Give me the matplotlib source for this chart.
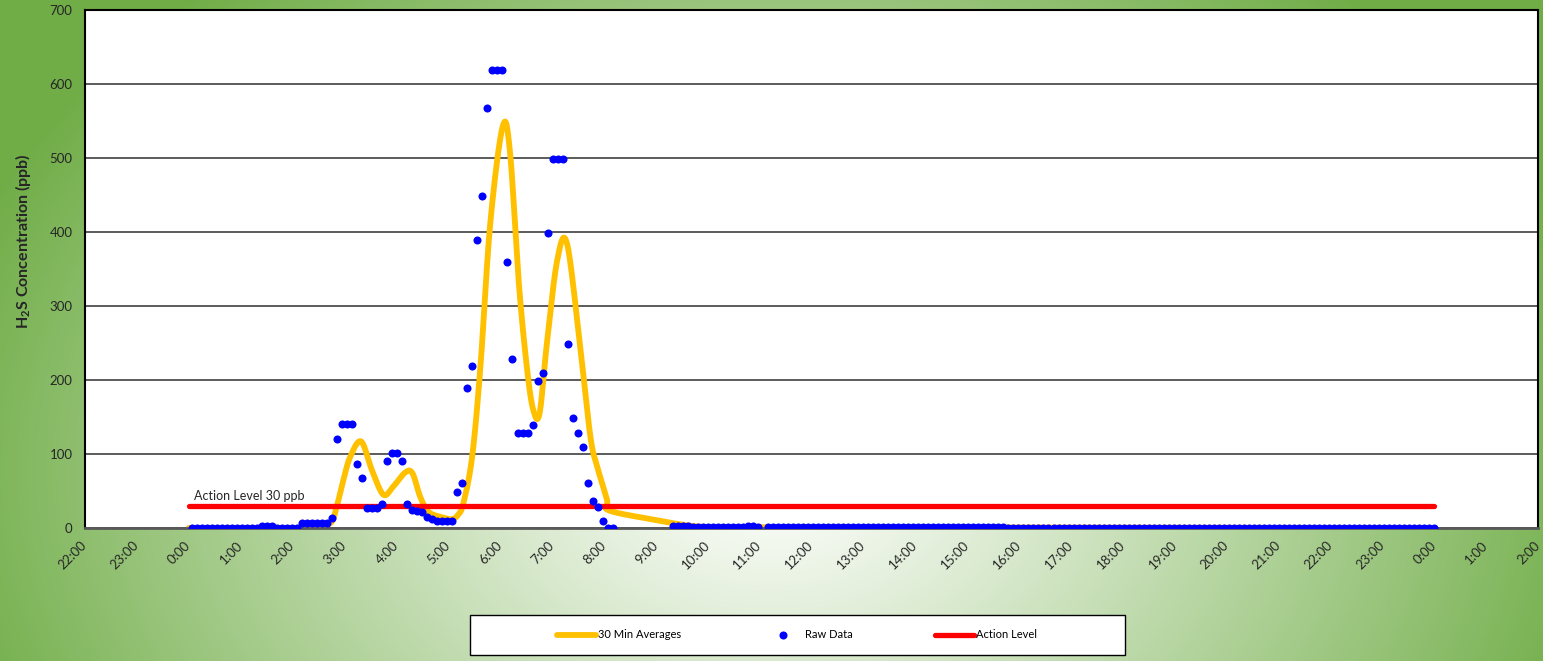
import numpy as np
import matplotlib
matplotlib.use("Agg")
import matplotlib.pyplot as plt
from matplotlib.patches import Rectangle
from matplotlib.lines import Line2D

plt.rcParams['font.family'] = ['Lato', 'DejaVu Sans']
plt.rcParams['mathtext.fontset'] = 'custom'
plt.rcParams['mathtext.rm'] = 'Lato'
plt.rcParams['mathtext.bf'] = 'Lato:bold'

# raw readings, one value per reading (NaN = no reading)
raw_values = (
    [0] * 14 + [3, 3, 3] + [0] * 5 + [7] * 6 +
    [14, 120, 140, 140, 140, 87, 68, 27, 27, 27, 32, 90, 102, 102, 90, 32,
     24, 23, 22, 15, 12, 10, 10, 10, 10, 48, 61, 189, 219, 389, 449, 568,
     619, 619, 619, 359, 229, 129, 129, 129, 139, 199, 209, 399, 499, 499,
     499, 249, 149, 129, 109, 61, 36, 28, 10, 0, 0] +
    [np.nan] * 11 +
    [3, 3, 3, 3, 2, 2, 2, 2, 2, 2, 1, 1, 1, 1, 2, 3, 3, 2] +
    [np.nan] +
    [1] * 16 + [2] * 3 + [1] * 4 + [2] * 5 + [1] * 16 + [2] * 4 + [0] * 86
)
raw_hours = np.linspace(0.06, 24.0, len(raw_values))

# 30 minute averages (hours after midnight, ppb)
avg_hours = [0.0, 2.07, 2.34, 2.72, 2.85, 2.98, 3.11, 3.32, 3.53, 3.75, 3.94,
             4.17, 4.31, 4.46, 4.62, 4.85, 5.07, 5.19, 5.29, 5.46, 5.62, 5.81,
             6.05, 6.19, 6.36, 6.52, 6.64, 6.76, 6.90, 7.10, 7.29,
             7.55, 7.74, 7.87, 8.06, 8.09, 8.90, 9.67, 10.25, 11.0, 24.0]
avg_values = [0, 0, 3, 6, 29, 65, 96, 117, 78, 45, 56,
              75, 74, 42, 22, 15, 12, 18, 33, 96, 218, 412,
              543, 508, 331, 214, 159, 155, 249, 362, 384,
              240, 123, 83, 38, 24, 12, 3, 1, 1, 0]

action_hours = [0, 24]
action_values = [30, 30]

tick_hours = list(range(-2, 27))
tick_labels = ["{}:00".format(h % 24) for h in tick_hours]


def smooth(xs, ys, n=24):
    # excel style smoothed line (bezier through the points)
    P = np.column_stack([xs, ys]).astype(float)
    out = []
    for i in range(len(P) - 1):
        p0 = P[i - 1] if i > 0 else P[i]
        p1, p2 = P[i], P[i + 1]
        p3 = P[i + 2] if i + 2 < len(P) else P[i + 1]
        c1 = p1 + (p2 - p0) / 6
        c2 = p2 - (p3 - p1) / 6
        t = np.linspace(0, 1, n)[:, None]
        seg = (1 - t) ** 3 * p1 + 3 * (1 - t) ** 2 * t * c1 + 3 * (1 - t) * t ** 2 * c2 + t ** 3 * p2
        out.append(seg if i == 0 else seg[1:])
    return np.vstack(out)


W, H = 1543, 661
fig = plt.figure(figsize=(W / 100, H / 100), dpi=100)

# radial gradient background
bg = fig.add_axes([0, 0, 1, 1], zorder=-10)
gx, gy = np.meshgrid(np.arange(W), np.arange(H))
r = np.sqrt(((gx - 771) / 860.0) ** 2 + ((gy - 470) / 640.0) ** 2)
r = np.clip(r, 0, 1) ** 1.1
c_in = np.array([1.0, 1.0, 1.0])
c_out = np.array([0x70, 0xAD, 0x47]) / 255.0
img = c_in[None, None, :] * (1 - r[..., None]) + c_out[None, None, :] * r[..., None]
bg.imshow(img, aspect='auto', extent=[0, W, H, 0])
bg.axis('off')

ax = fig.add_axes([85 / W, 1 - 528 / H, (1538 - 85) / W, (528 - 10) / H])
ax.set_facecolor('white')

curve = smooth(avg_hours, avg_values)
ax.plot(curve[:, 0], curve[:, 1], color='#FFC000', lw=4.2, solid_capstyle='round',
        solid_joinstyle='round', zorder=2)
ax.plot(action_hours, action_values, color='#FF0000', lw=3.8, solid_capstyle='round', zorder=3)
ax.plot(raw_hours, raw_values, 'o', color='#0000FF', ms=5.8, mec='none', zorder=4)

ax.text(0.11, 38.5, "Action Level 30 ppb", fontsize=9, color='#262626', va='baseline', zorder=5)

ax.set_xlim(-2, 26)
ax.set_ylim(0, 700)
ax.set_xticks(tick_hours)
ax.set_xticklabels(tick_labels, rotation=45, ha='right', va='center', rotation_mode='anchor')
ax.set_yticks(range(0, 701, 100))
ax.tick_params(axis='both', length=0, labelsize=9.5, colors='#262626')
ax.tick_params(axis='x', pad=11)
ax.tick_params(axis='y', pad=9)
ax.grid(axis='y', color='#404040', lw=1.2)
ax.set_axisbelow(True)
for side in ['left', 'top', 'right']:
    ax.spines[side].set_color('black')
    ax.spines[side].set_linewidth(1.5)
ax.spines['bottom'].set_color('#595959')
ax.spines['bottom'].set_linewidth(2)

ax.set_ylabel(r"H$_\mathbf{2}$S Concentration (ppb)", fontsize=11.5, fontweight='bold', color='#262626')
ax.yaxis.set_label_coords(-52 / (1538 - 85), 0.554)

# legend box
fig.patches.append(Rectangle((470 / W, 1 - 655 / H), 655 / W, 40 / H, transform=fig.transFigure,
                             facecolor='white', edgecolor='black', lw=1, zorder=5))
handles = [Line2D([], [], color='#FFC000', lw=4.2, solid_capstyle='round'),
           Line2D([], [], ls='none', marker='o', color='#0000FF', ms=5.8, mec='none'),
           Line2D([], [], color='#FF0000', lw=3.8, solid_capstyle='round')]
leg = fig.legend(handles, ["30 Min Averages", "Raw Data", "Action Level"], ncol=3, frameon=False,
                 loc='center', bbox_to_anchor=(797 / W, 1 - 635 / H), fontsize=8,
                 handlelength=3.5, handletextpad=0.2, columnspacing=7.4)
leg.set_zorder(6)

fig.savefig("out.png", dpi=100)
